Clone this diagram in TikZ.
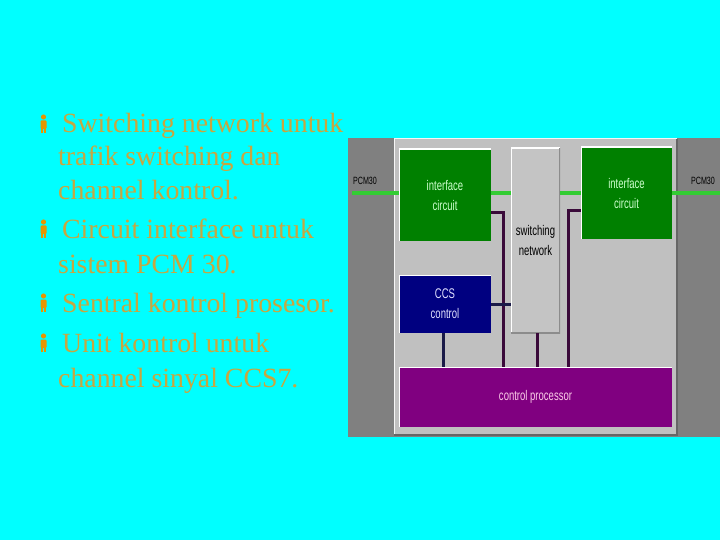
\documentclass[tikz,border=0pt]{standalone}
\usepackage{xcolor}
\usepackage{fontspec}
\setmainfont{Liberation Serif}
\newfontfamily\boxfont[FakeStretch=0.68]{Liberation Sans}
\usepackage{tikz}

\definecolor{slidecyan}{HTML}{00FFFF}
\definecolor{itemtan}{HTML}{C8A640}
\definecolor{bulletorange}{HTML}{E69500}
\definecolor{paneldark}{HTML}{808080}
\definecolor{panellight}{HTML}{C0C0C0}
\definecolor{swgrey}{HTML}{C4C4C4}
\definecolor{ifgreen}{HTML}{008000}
\definecolor{ccsnavy}{HTML}{000080}
\definecolor{cppurple}{HTML}{800080}
\definecolor{pcmgreen}{HTML}{33CC33}
\definecolor{ctlpurple}{HTML}{3A0A3A}
\definecolor{ctlnavy}{HTML}{1A1A48}

\tikzset{
    raised/.style={path picture={
        \draw[white,line width=1.5pt] (path picture bounding box.south west)
            -- (path picture bounding box.north west) -- (path picture bounding box.north east);}},
    sunken/.style={path picture={
        \draw[white,line width=1.5pt] (path picture bounding box.south west)
            -- (path picture bounding box.north west) -- (path picture bounding box.north east);
        \draw[black!45,line width=1.5pt] (path picture bounding box.south west)
            -- (path picture bounding box.south east) -- (path picture bounding box.north east);}},
    block/.style={rectangle, raised, inner sep=0pt, align=center,
        font=\boxfont\fontsize{14}{20}\selectfont},
    ifbox/.style={block, fill=ifgreen, text=green!20!white,
        minimum width=92pt, minimum height=92pt},
    item/.style={anchor=base west, inner sep=0pt, text=itemtan,
        font=\fontsize{27.8}{34}\selectfont},
    pcmlabel/.style={inner sep=0pt, font=\boxfont\fontsize{10.5}{12}\selectfont},
    pcmline/.style={pcmgreen, line width=3.2pt},
    ctlline/.style={ctlpurple, line width=3pt},
    manicon/.pic={
        \fill[bulletorange] (0,-16) circle (2.6pt);
        \fill[bulletorange, rounded corners=1pt] (-3,-12.5) rectangle (3,-4);
        \fill[bulletorange] (-2.2,-5) rectangle (-0.4,0);
        \fill[bulletorange] (0.4,-5) rectangle (2.2,0);
    }
}

\begin{document}
\begin{tikzpicture}[x=1pt, y=-1pt]
    \fill[slidecyan] (0,0) rectangle (720,540);
    \useasboundingbox (0,0) rectangle (720,540);

    % bullet text
    \node[item] (l1) at (62,133) {Switching network untuk};
    \node[item] (l2) at (58,166) {trafik switching dan};
    \node[item] (l3) at (58,200) {channel kontrol.};
    \node[item] (l4) at (62,238) {Circuit interface untuk};
    \node[item] (l5) at (58,273) {sistem PCM 30.};
    \node[item] (l6) at (62,312) {Sentral kontrol prosesor.};
    \node[item] (l7) at (62,352) {Unit kontrol untuk};
    \node[item] (l8) at (58,387) {channel sinyal CCS7.};

    \pic at ([xshift=-18.5pt]l1.base west) {manicon};
    \pic at ([xshift=-18.5pt]l4.base west) {manicon};
    \pic at ([xshift=-18.5pt]l6.base west) {manicon};
    \pic at ([xshift=-18.5pt]l7.base west) {manicon};

    % panel
    \fill[paneldark] (348,138) rectangle (720,437);
    \fill[panellight] (394,139) rectangle (677,435);
    \draw[white!85!panellight, line width=1pt] (394,435) -- (394,139) -- (677,139);
    \draw[black!60, line width=1.2pt] (677,139) -- (677,435) -- (394,435);

    \node[ifbox] (ifl) at (445,195) {interface\\circuit};
    \node[ifbox, minimum width=91pt] (ifr) at (626.5,193) {interface\\circuit};
    \node[block, sunken, fill=swgrey, minimum width=49pt, minimum height=185pt]
        (sw) at (535.5,240.5) {switching\\network};
    \node[block, fill=ccsnavy, text=blue!12!white, minimum width=92pt, minimum height=58pt]
        (ccs) at (445,304) {CCS\\control};
    \node[block, fill=cppurple, text=magenta!20!white, minimum width=273pt, minimum height=60pt]
        (cp) at (535.5,397) {control processor};

    \node[pcmlabel] (pcml) at (365,181) {PCM30};
    \node[pcmlabel] (pcmr) at (703,181) {PCM30};
    \coordinate (pcmlin) at (352,193);
    \coordinate (pcmrout) at (720,193);

    % speech path
    \draw[pcmline] (pcmlin) -- (pcmlin -| ifl.west);
    \draw[pcmline] (ifl.east |- 0,193) -- (sw.west |- 0,193);
    \draw[pcmline] (sw.east |- 0,193) -- (ifr.west |- 0,193);
    \draw[pcmline] (ifr.east |- 0,193) -- (pcmrout);

    % control links
    \draw[ctlline] (ifl.east |- 0,213) -| (503,0 |- cp.north);
    \draw[ctlline] (ifr.west |- 0,211) -| (568,0 |- cp.north);
    \draw[ctlline] (537,0 |- sw.south) -- (537,0 |- cp.north);
    \draw[ctlnavy, line width=3pt] (ccs.east |- 0,304) -- (sw.west |- 0,304);
    \draw[ctlnavy, line width=3pt] (443,0 |- ccs.south) -- (443,0 |- cp.north);
\end{tikzpicture}
\end{document}
